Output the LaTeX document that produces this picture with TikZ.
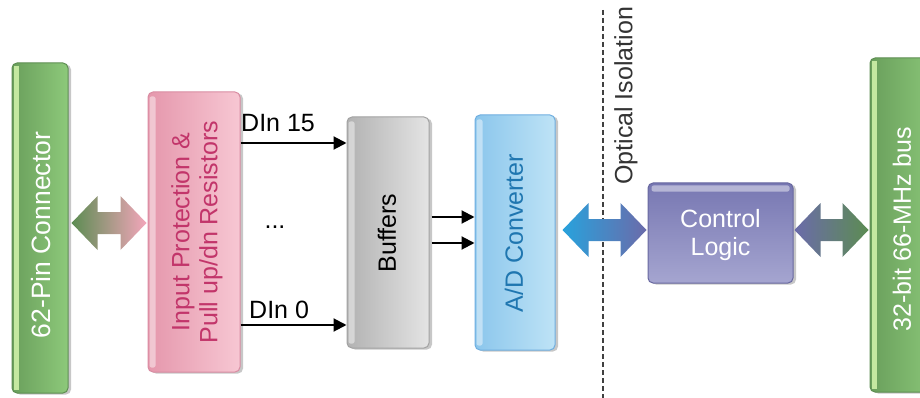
\documentclass[tikz,border=0pt]{standalone}
\usepackage{fontspec}
\setmainfont{Liberation Sans}
\usetikzlibrary{shadows,calc,arrows.meta}
\definecolor{gL}{HTML}{6A9F5C}
\definecolor{gR}{HTML}{8DC97A}
\definecolor{gD}{HTML}{5E8E52}
\definecolor{gS}{HTML}{C4E8A0}
\definecolor{pL}{HTML}{E597AC}
\definecolor{pR}{HTML}{F7C7D3}
\definecolor{pD}{HTML}{D98CA2}
\definecolor{pT}{HTML}{C2356A}
\definecolor{bL}{HTML}{B2B2B2}
\definecolor{bR}{HTML}{E4E4E4}
\definecolor{bD}{HTML}{A2A2A2}
\definecolor{aL}{HTML}{8BC6EC}
\definecolor{aR}{HTML}{BEE3F6}
\definecolor{aD}{HTML}{6FAEE0}
\definecolor{aT}{HTML}{1F76B0}
\definecolor{cT}{HTML}{7777B2}
\definecolor{cB}{HTML}{A5A5D0}
\definecolor{cD}{HTML}{6868A0}
\definecolor{arG}{HTML}{5C8C52}
\definecolor{arP}{HTML}{F3A6BB}
\definecolor{arB}{HTML}{28A2DC}
\definecolor{arV}{HTML}{6B6BAA}
\newcommand\dblarr[6]{% left node, right node, left gap, y, left colour, right colour
  \shade[left color=#5,right color=#6] let \p1=(#1.east), \p2=(#2.west), \p3=(0,#4) in
   (\x1+#3pt,\y3) -- (\x1+#3pt+26pt,\y3+27pt) -- (\x1+#3pt+26pt,\y3+11pt)
   -- (\x2-27pt,\y3+11pt) -- (\x2-27pt,\y3+27pt) -- (\x2-1pt,\y3)
   -- (\x2-27pt,\y3-27pt) -- (\x2-27pt,\y3-11pt) -- (\x1+#3pt+26pt,\y3-11pt)
   -- (\x1+#3pt+26pt,\y3-27pt) -- cycle;}
\begin{document}
\begin{tikzpicture}[x=1pt,y=-1pt,
  blk/.style={rounded corners=5pt, line width=1pt, inner sep=0pt,
    drop shadow={shadow xshift=3pt, shadow yshift=-1.5pt, fill=black!40, opacity=.55}},
  lbl/.style={font=\fontsize{25}{28}\selectfont, align=center, inner sep=0pt},
  sig/.style={line width=2pt, -{Triangle[length=13pt,width=13pt]}},
  stripe/.style={rounded corners=2pt, fill=white, opacity=.45}]
\useasboundingbox (0,0) rectangle (920,398);
\clip (0,0) rectangle (920,398);
% blocks
\node[blk, left color=gL, right color=gR, draw=gD, minimum width=56pt, minimum height=330pt] (conn) at (40,228) {};
\node[blk, left color=pL, right color=pR, draw=pD, minimum width=92pt, minimum height=280pt] (prot) at (194,232) {};
\node[blk, left color=bL, right color=bR, draw=bD, minimum width=82pt, minimum height=231pt] (buf) at (388,232.5) {};
\node[blk, left color=aL, right color=aR, draw=aD, minimum width=80pt, minimum height=235pt] (adc) at (515,232.5) {};
\node[blk, top color=cT, bottom color=cB, draw=cD, minimum width=145pt, minimum height=100pt] (ctrl) at (720.5,233) {};
\node[blk, left color=gL, right color=gR, draw=gD, minimum width=70pt, minimum height=334pt] (bus) at (905,225) {};
% highlight stripes
\fill[gS] ($(conn.north west)+(2,4)$) rectangle ($(conn.south west)+(7,-4)$);
\fill[gS] ($(bus.north west)+(2,4)$) rectangle ($(bus.south west)+(7,-4)$);
\fill[stripe] ($(prot.north west)+(2,5)$) rectangle ($(prot.south west)+(8,-5)$);
\fill[stripe] ($(buf.north west)+(2,5)$) rectangle ($(buf.south west)+(8,-5)$);
\fill[stripe] ($(adc.north west)+(2,5)$) rectangle ($(adc.south west)+(8,-5)$);
\fill[stripe] ($(ctrl.north west)+(4,3)$) rectangle ($(ctrl.north east)+(-4,9)$);
% labels
\node[lbl, rotate=90, text=white, font=\fontsize{26.5}{30}\selectfont] (connT) at (41,235) {62-Pin Connector};
\node[lbl, rotate=90, text=pT] (protT) at (197,232) {Input Protection \&\\Pull up/dn Resistors};
\node[lbl, rotate=90, text=black] (bufT) at (387,233) {Buffers};
\node[lbl, rotate=90, text=aT] (adcT) at (514,233) {A/D Converter};
\node[lbl, text=white] (ctrlT) at (720.5,235) {Control\\Logic};
\node[lbl, rotate=90, text=white] (busT) at (902,229) {32-bit 66-MHz bus};
% optical isolation
\coordinate (isoTop) at (603,10);
\coordinate (isoBot) at (603,398);
\draw[black!75, line width=2.2pt, dash pattern=on 5pt off 3pt] (isoTop) -- (isoBot);
\node[lbl, rotate=90, text=black!80, anchor=north west] (isoT) at (614,185) {Optical Isolation};
% double arrows
\dblarr{conn}{prot}{3}{223}{arG}{arP}
\dblarr{adc}{ctrl}{7}{230}{arB}{arV}
\dblarr{ctrl}{bus}{1}{230}{arV}{arG}
% signal lines
\coordinate (y15) at (0,143);
\coordinate (y0) at (0,325);
\coordinate (ya) at (0,217);
\coordinate (yb) at (0,243);
\draw[sig] (prot.east |- y15) -- (buf.west |- y15);
\draw[sig] (prot.east |- y0) -- (buf.west |- y0);
\draw[sig] ($(buf.east |- ya)+(2,0)$) -- (adc.west |- ya);
\draw[sig] ($(buf.east |- yb)+(2,0)$) -- (adc.west |- yb);
\node[lbl, anchor=base west] (d15) at (241,132) {DIn 15};
\node[lbl, anchor=base west] (d0) at (249,318) {DIn 0};
\node[lbl] (dots) at (275,227) {...};
\end{tikzpicture}
\end{document}
